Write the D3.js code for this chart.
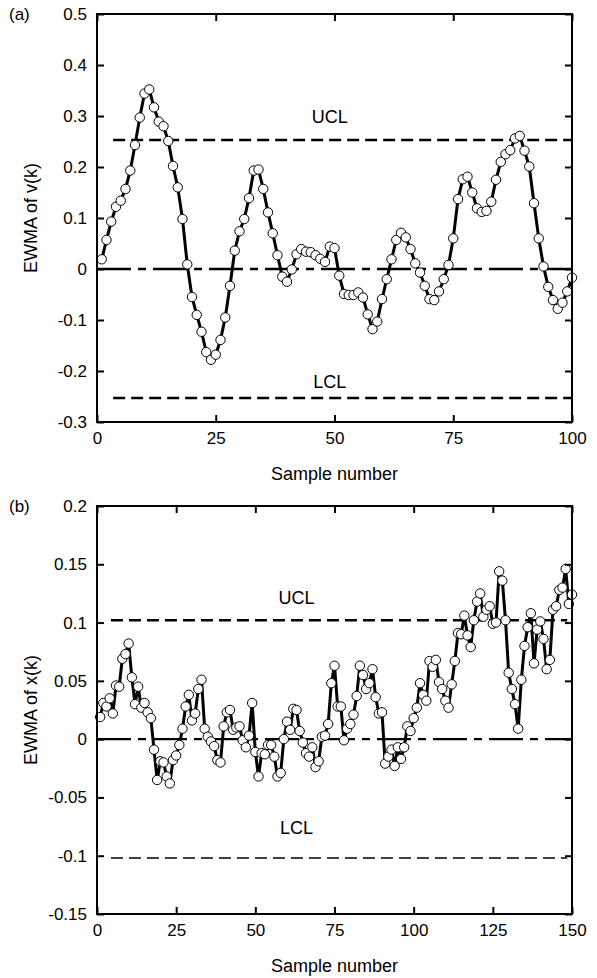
<!DOCTYPE html>
<html>
<head>
<meta charset="utf-8">
<script src="https://cdn.jsdelivr.net/npm/d3@7"></script>
<style>
  body { margin: 0; background: #fff; }
  svg text { font-family: Arial, "Liberation Sans", sans-serif; fill: #000; }
</style>
</head>
<body>
<div id="chart"></div>
<script>
// panel (a): EWMA of v(k), samples 1..100
var vEwma = [
  0.019, 0.057, 0.093, 0.122, 0.134, 0.157, 0.193, 0.243, 0.297, 0.344,
  0.352, 0.317, 0.289, 0.280, 0.251, 0.202, 0.160, 0.098, 0.009, -0.055,
  -0.090, -0.123, -0.163, -0.178, -0.168, -0.139, -0.095, -0.033, 0.036, 0.074,
  0.098, 0.139, 0.193, 0.195, 0.157, 0.111, 0.070, 0.027, -0.015, -0.025,
  -0.001, 0.029, 0.039, 0.034, 0.033, 0.027, 0.020, 0.014, 0.044, 0.041,
  -0.013, -0.049, -0.051, -0.051, -0.046, -0.056, -0.089, -0.118, -0.103, -0.059,
  -0.020, 0.019, 0.057, 0.071, 0.062, 0.039, 0.011, -0.007, -0.033, -0.059,
  -0.061, -0.044, -0.020, 0.008, 0.060, 0.137, 0.176, 0.181, 0.150, 0.119,
  0.112, 0.114, 0.132, 0.175, 0.210, 0.225, 0.233, 0.256, 0.261, 0.232,
  0.201, 0.129, 0.060, 0.005, -0.035, -0.061, -0.078, -0.066, -0.044, -0.017
]

// panel (b): EWMA of x(k), samples 1..150
var xEwma = [
  0.019, 0.031, 0.028, 0.035, 0.022, 0.046, 0.045, 0.069, 0.073, 0.082,
  0.053, 0.030, 0.045, 0.027, 0.031, 0.023, 0.018, -0.009, -0.035, -0.019,
  -0.020, -0.032, -0.038, -0.018, -0.014, -0.005, 0.009, 0.028, 0.038, 0.016,
  0.022, 0.043, 0.051, 0.009, 0.002, -0.002, -0.006, -0.018, -0.020, 0.011,
  0.023, 0.025, 0.008, 0.010, 0.011, -0.001, -0.007, 0.003, 0.031, -0.011,
  -0.032, -0.012, -0.013, -0.005, -0.005, -0.015, -0.032, -0.029, 0.000, 0.015,
  0.008, 0.026, 0.025, 0.007, -0.003, -0.012, -0.015, -0.007, -0.024, -0.019,
  0.002, 0.003, 0.013, 0.048, 0.063, 0.028, 0.028, -0.001, 0.009, 0.013,
  0.021, 0.037, 0.063, 0.055, 0.043, 0.048, 0.060, 0.036, 0.022, 0.023,
  -0.021, -0.015, -0.009, -0.023, -0.007, -0.017, -0.007, 0.011, 0.007, 0.018,
  0.027, 0.048, 0.038, 0.033, 0.067, 0.062, 0.068, 0.049, 0.043, 0.033,
  0.027, 0.047, 0.067, 0.091, 0.090, 0.106, 0.089, 0.079, 0.102, 0.118,
  0.125, 0.105, 0.111, 0.114, 0.099, 0.100, 0.144, 0.136, 0.102, 0.057,
  0.043, 0.030, 0.009, 0.051, 0.080, 0.096, 0.108, 0.065, 0.094, 0.101,
  0.086, 0.060, 0.068, 0.111, 0.114, 0.128, 0.130, 0.146, 0.116, 0.124
]

// control limits and the sample range they are drawn over
var vLimits = {ucl: 0.253, lcl: -0.253, from: 3.4, to: 100}
var xLimits = {ucl: 0.102, lcl: -0.102, from: 4.4, to: 148.5}

// tick values
var vTicksX = [0, 25, 50, 75, 100]
var vTicksY = [-0.3, -0.2, -0.1, 0, 0.1, 0.2, 0.3, 0.4, 0.5]
var xTicksX = [0, 25, 50, 75, 100, 125, 150]
var xTicksY = [-0.15, -0.1, -0.05, 0, 0.05, 0.1, 0.15, 0.2]

var w = 597, h = 978,
	svg = d3.select("#chart").append("svg")
		.attr("width", w)
		.attr("height", h),
	fontSize = 17,
	titleSize = 18,
	fmt = d => String(+d.toFixed(2))

var drawPanel = (opts) => {
	var g = svg.append("g")

	var x = d3.scaleLinear()
		.domain(opts.xDomain)
		.range([opts.left, opts.right])

	var y = d3.scaleLinear()
		.domain(opts.yDomain)
		.range([opts.bottom, opts.top])

	var values = opts.values.map((v, i) => ({k: i + 1, v: v}))

	// centre line (dash-dot)
	g.append("line")
		.attr("x1", x(opts.xDomain[0])).attr("x2", x(opts.xDomain[1]))
		.attr("y1", y(0)).attr("y2", y(0))
		.attr("stroke", "#000")
		.attr("stroke-width", 2.4)
		.attr("stroke-dasharray", "34,7,8,7")

	// UCL / LCL
	g.append("line")
		.attr("x1", x(opts.limits.from)).attr("x2", x(opts.limits.to))
		.attr("y1", y(opts.limits.ucl)).attr("y2", y(opts.limits.ucl))
		.attr("stroke", "#000")
		.attr("stroke-width", 2.4)
		.attr("stroke-dasharray", "12,6")

	g.append("line")
		.attr("x1", x(opts.limits.from)).attr("x2", x(opts.limits.to))
		.attr("y1", y(opts.limits.lcl)).attr("y2", y(opts.limits.lcl))
		.attr("stroke", "#000")
		.attr("stroke-width", opts.lclWidth)
		.attr("stroke-dasharray", "12,6")

	g.append("text")
		.attr("x", x(opts.uclLabel[0])).attr("y", y(opts.uclLabel[1]))
		.attr("dy", "0.35em")
		.style("text-anchor", "middle")
		.style("font-size", titleSize + "px")
		.text("UCL")

	g.append("text")
		.attr("x", x(opts.lclLabel[0])).attr("y", y(opts.lclLabel[1]))
		.attr("dy", "0.35em")
		.style("text-anchor", "middle")
		.style("font-size", titleSize + "px")
		.text("LCL")

	// the series
	var line = d3.line()
		.x(d => x(d.k))
		.y(d => y(d.v))

	g.append("path")
		.datum(values)
		.attr("fill", "none")
		.attr("stroke", "#000")
		.attr("stroke-width", 3)
		.attr("stroke-linejoin", "round")
		.attr("d", line)

	g.selectAll("circle")
		.data(values)
		.enter()
		.append("circle")
		.attr("cx", d => x(d.k))
		.attr("cy", d => y(d.v))
		.attr("r", 4.7)
		.attr("fill", "#fff")
		.attr("stroke", "#000")
		.attr("stroke-width", 1)

	// axes with inward ticks on all four sides
	var tick = 7
	var styleAxis = sel => {
		sel.select(".domain").remove()
		sel.selectAll(".tick line").attr("stroke", "#000").attr("stroke-width", 2)
		sel.selectAll(".tick text")
			.style("font-size", fontSize + "px")
			.style("font-family", "Arial, 'Liberation Sans', sans-serif")
	}

	g.append("g")
		.attr("transform", "translate(0," + opts.bottom + ")")
		.call(d3.axisBottom(x).tickValues(opts.ticksX).tickFormat(fmt)
			.tickSizeInner(-tick).tickSizeOuter(0).tickPadding(10))
		.call(styleAxis)

	g.append("g")
		.attr("transform", "translate(0," + opts.top + ")")
		.call(d3.axisTop(x).tickValues(opts.ticksX).tickFormat("")
			.tickSizeInner(-tick).tickSizeOuter(0))
		.call(styleAxis)

	g.append("g")
		.attr("transform", "translate(" + opts.left + ",0)")
		.call(d3.axisLeft(y).tickValues(opts.ticksY).tickFormat(fmt)
			.tickSizeInner(-tick).tickSizeOuter(0).tickPadding(10))
		.call(styleAxis)

	g.append("g")
		.attr("transform", "translate(" + opts.right + ",0)")
		.call(d3.axisRight(y).tickValues(opts.ticksY).tickFormat("")
			.tickSizeInner(-tick).tickSizeOuter(0))
		.call(styleAxis)

	// frame
	g.append("rect")
		.attr("x", opts.left).attr("y", opts.top)
		.attr("width", opts.right - opts.left)
		.attr("height", opts.bottom - opts.top)
		.attr("fill", "none")
		.attr("stroke", "#000")
		.attr("stroke-width", 2)

	// titles
	g.append("text")
		.attr("x", (opts.left + opts.right) / 2)
		.attr("y", opts.bottom + 58)
		.style("text-anchor", "middle")
		.style("font-size", titleSize + "px")
		.text("Sample number")

	g.append("text")
		.attr("transform", "rotate(-90)")
		.attr("x", -(opts.top + opts.bottom) / 2)
		.attr("y", 37)
		.style("text-anchor", "middle")
		.style("font-size", titleSize + "px")
		.text(opts.yTitle)

	g.append("text")
		.attr("x", 9)
		.attr("y", opts.top)
		.attr("dy", "0.35em")
		.style("font-size", fontSize + "px")
		.text(opts.tag)
}

drawPanel({
	values: vEwma, limits: vLimits, lclWidth: 2.6,
	xDomain: [0, 100], yDomain: [-0.3, 0.5],
	ticksX: vTicksX, ticksY: vTicksY,
	left: 97, right: 572, top: 14, bottom: 422,
	uclLabel: [49, 0.298], lclLabel: [49, -0.221],
	yTitle: "EWMA of v(k)", tag: "(a)"
})

drawPanel({
	values: xEwma, limits: xLimits, lclWidth: 1.4,
	xDomain: [0, 150], yDomain: [-0.15, 0.2],
	ticksX: xTicksX, ticksY: xTicksY,
	left: 97, right: 572, top: 506, bottom: 914,
	uclLabel: [63, 0.121], lclLabel: [63, -0.076],
	yTitle: "EWMA of x(k)", tag: "(b)"
})
</script>
</body>
</html>
